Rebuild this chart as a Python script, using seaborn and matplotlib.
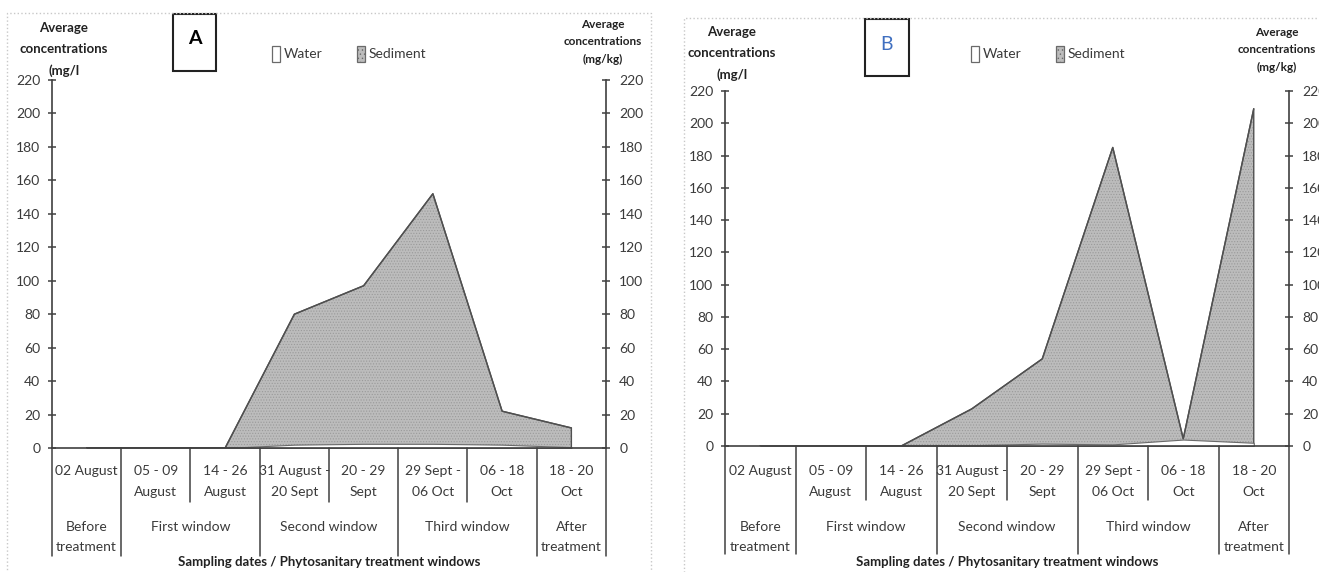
import numpy as np
import pandas as pd
import seaborn as sns
import matplotlib.pyplot as plt
from matplotlib.patches import Rectangle

# sampling dates (level 1) and treatment windows (level 2)
categories = ["02 August", "05 - 09\nAugust", "14 - 26\nAugust", "31 August -\n20 Sept",
              "20 - 29\nSept", "29 Sept -\n06 Oct", "06 - 18\nOct", "18 - 20\nOct"]
windows = ["Before\ntreatment", "First window", "Second window", "Third window", "After\ntreatment"]
window_sizes = [1, 2, 2, 2, 1]
yticks = [0, 20, 40, 60, 80, 100, 120, 140, 160, 180, 200, 220]

water_a = [0, 0, 0, 2, 2.5, 2.5, 2, 0.5]
sediment_a = [0, 0, 0, 80, 97, 152, 22, 12]
water_b = [0.5, 0.3, 0, 0.5, 1.5, 1, 4, 2]
sediment_b = [0, 0, 0, 23, 54, 185, 4.5, 209]

W, H = 1319, 572
sns.set_style("white")
plt.rcParams["font.family"] = ["Lato", "DejaVu Sans"]
plt.rcParams["hatch.linewidth"] = 0.5

TXT = "#3a3a3a"
AX = "#404040"
FS = 10

fig = plt.figure(figsize=(W / 100, H / 100), dpi=100)


def fx(px):
    return px / W


def fy(py):
    return 1 - py / H


def panel(left, right, top, bottom, water, sediment, letter, letter_box, letter_color,
          letter_weight, legend_x, rtitle_x, ltitle_x, ltitle_y, rtitle_y, border):
    ax = fig.add_axes([fx(left), fy(bottom), fx(right - left), (bottom - top) / H])
    x = np.arange(len(categories))
    df = pd.DataFrame({"x": x, "water": water, "sediment": sediment})

    # sediment area (stippled grey)
    ax.fill_between(df["x"], 0, df["sediment"], facecolor="#bcbcbc", edgecolor="#9a9a9a",
                    hatch="......", linewidth=0, zorder=2)
    ax.fill_between(df["x"], 0, df["sediment"], facecolor="none", edgecolor="#505050",
                    linewidth=1.0, zorder=3)
    sns.lineplot(data=df, x="x", y="sediment", ax=ax, color="#505050", linewidth=1.0,
                 zorder=3, legend=False)
    # water area (white)
    ax.fill_between(df["x"], 0, df["water"], facecolor="white", edgecolor="#6a6a6a",
                    linewidth=0.8, zorder=4)

    ax.set_xlim(-0.5, len(categories) - 0.5)
    ax.set_ylim(0, 220)
    ax.set_yticks(yticks)
    ax.set_xticks([])
    ax.set_xlabel("")
    ax.set_ylabel("")
    for s in ["top", "right"]:
        ax.spines[s].set_visible(False)
    for s in ["left", "bottom"]:
        ax.spines[s].set_color(AX)
        ax.spines[s].set_linewidth(1.2)
        ax.spines[s].set_zorder(5)
    ax.tick_params(axis="y", direction="inout", length=6, width=1.1, color=AX,
                   labelsize=FS, labelcolor=TXT, pad=5.5, left=True)
    ax.patch.set_alpha(0)

    ax2 = ax.twinx()
    ax2.set_ylim(0, 220)
    ax2.set_yticks(yticks)
    for s in ["top", "left", "bottom"]:
        ax2.spines[s].set_visible(False)
    ax2.spines["right"].set_color(AX)
    ax2.spines["right"].set_linewidth(1.2)
    ax2.tick_params(axis="y", direction="inout", length=6, width=1.1, color=AX,
                    labelsize=FS, labelcolor=TXT, pad=6.5, right=True)

    # category boundaries (multi-level axis)
    height = bottom - top
    tr = ax.get_xaxis_transform()
    group_edges = np.concatenate([[0], np.cumsum(window_sizes)])
    for i in range(len(categories) + 1):
        end = bottom + 108 if i in group_edges else bottom + 54
        ax.plot([i - 0.5, i - 0.5], [0, (bottom - end) / height], transform=tr,
                color=AX, linewidth=1.1, clip_on=False, zorder=5)
    for i, lab in enumerate(categories):
        ax.text(i, (bottom - 465) / height, lab, transform=tr, ha="center", va="top",
                fontsize=FS, color=TXT, linespacing=1.9)
    for k, lab in enumerate(windows):
        c = (group_edges[k] + group_edges[k + 1]) / 2 - 0.5
        ax.text(c, (bottom - 521) / height, lab, transform=tr, ha="center", va="top",
                fontsize=FS, color=TXT, linespacing=1.82)
    fig.text(fx((left + right) / 2), fy(562), "Sampling dates / Phytosanitary treatment windows",
             ha="center", va="center", fontsize=9.5, fontweight="bold", color="#222222")

    # axis titles
    fig.text(fx(ltitle_x), fy(ltitle_y), "Average\nconcentrations\n(mg/l",
             ha="center", va="top", fontsize=9.5, fontweight="bold", color="#222222",
             linespacing=1.87)
    fig.text(fx(rtitle_x), fy(rtitle_y), "Average\nconcentrations\n(mg/kg)",
             ha="center", va="top", fontsize=8.5, fontweight="bold", color="#222222",
             linespacing=1.72)

    # panel letter box
    bx0, by0, bx1, by1 = letter_box
    fig.patches.append(Rectangle((fx(bx0), fy(by1)), fx(bx1 - bx0), (by1 - by0) / H,
                                 transform=fig.transFigure, facecolor="white",
                                 edgecolor="#222222", linewidth=1.5))
    fig.text(fx((bx0 + bx1) / 2), fy(by0 + 25), letter, ha="center", va="center",
             fontsize=14, fontweight=letter_weight, color=letter_color)

    # legend
    for dx, lab, face in [(0, "Water", "white"), (85, "Sediment", "#bcbcbc")]:
        lx = legend_x + dx
        fig.patches.append(Rectangle((fx(lx), fy(62)), fx(8), 16 / H, transform=fig.transFigure,
                                     facecolor=face, edgecolor="#6a6a6a", linewidth=0.9,
                                     hatch="...." if face != "white" else None))
        fig.text(fx(lx + 12), fy(54), lab, ha="left", va="center", fontsize=FS, color=TXT)

    # dotted panel border
    x0, y0, x1 = border
    fig.patches.append(Rectangle((fx(x0), fy(H + 5)), fx(x1 - x0), (H + 5 - y0) / H,
                                 transform=fig.transFigure, facecolor="none",
                                 edgecolor="#c8c8c8", linewidth=1.0, linestyle=":"))
    return ax


panel(52, 606, 80, 448, water_a, sediment_a, "A", (173, 14, 216, 71), "black", "bold",
      272, 603, 64, 22, 19, (7, 13, 651))
panel(725, 1289, 91, 446, water_b, sediment_b, "B", (865, 19, 909, 76), "#3f6fc0", "normal",
      971, 1277, 732, 26, 27, (684, 18, 1325))

fig.savefig("out.png", dpi=100)
